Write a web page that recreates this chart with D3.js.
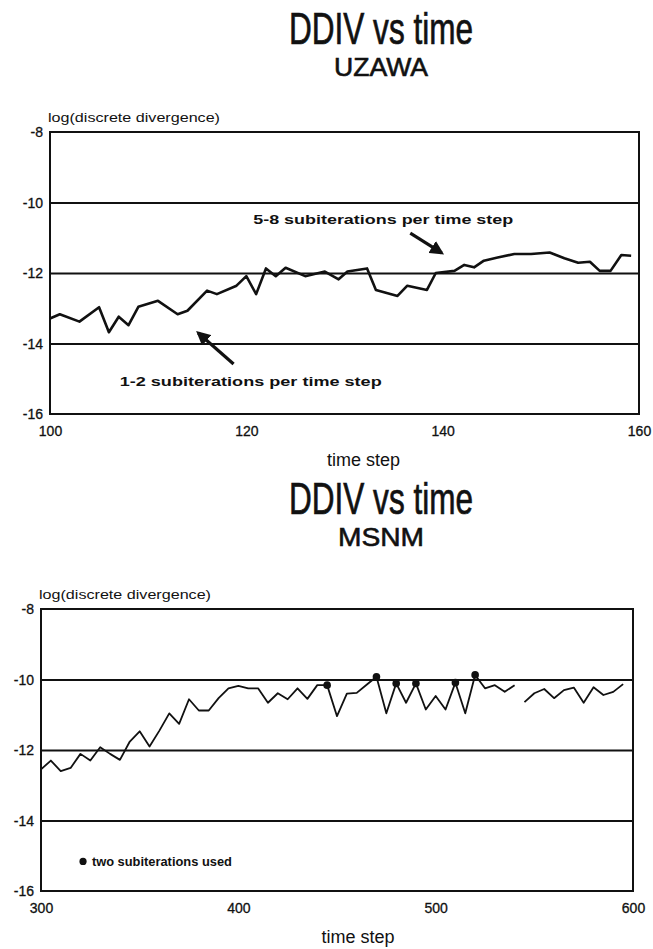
<!DOCTYPE html>
<html>
<head>
<meta charset="utf-8">
<script src="https://cdn.jsdelivr.net/npm/d3@7"></script>
<style>
  html, body { margin: 0; padding: 0; background: #fff; }
  svg { display: block; }
  text { font-family: "Liberation Sans", Arial, Helvetica, sans-serif; fill: #111; }
</style>
</head>
<body>
<svg id="chart" width="653" height="949"></svg>
<script>
// ---- UZAWA run: log10 of discrete divergence per time step ----
const uzawaTimes = [100, 101, 103, 105, 106, 107, 108, 109, 111, 113, 114, 116, 117, 119, 120,
  121, 122, 123, 124, 126, 128, 129.4, 130.3, 132.3, 133.2, 135.4, 136.4, 138.4, 139.3, 141.2,
  142.2, 143.2, 144.2, 145.6, 147.3, 149, 150.9, 152.4, 153.8, 155, 156, 157.1, 158.2, 159.2];
const uzawaValues = [-13.29, -13.17, -13.38, -12.97, -13.68, -13.24, -13.48, -12.96, -12.79, -13.17,
  -13.07, -12.50, -12.60, -12.36, -12.09, -12.60, -11.87, -12.09, -11.85, -12.09, -11.96, -12.18,
  -11.96, -11.87, -12.48, -12.65, -12.36, -12.48, -12.00, -11.94, -11.77, -11.84, -11.65, -11.56,
  -11.46, -11.46, -11.42, -11.58, -11.71, -11.68, -11.94, -11.94, -11.49, -11.51];

// ---- MSNM run: every fifth time step ----
const msnmTimes = [300, 305, 310, 315, 320, 325, 330, 335, 340, 345, 350, 355, 360, 365, 370,
  375, 380, 385, 390, 395, 400, 405, 410, 415, 420, 425, 430, 435, 440, 445, 450, 455, 460, 465,
  470, 475, 480, 485, 490, 495, 500, 505, 510, 515, 520, 525, 530, 535, 540, 545, 550, 555, 560,
  565, 570, 575, 580, 585, 590, 595];
const msnmValues = [-12.55, -12.30, -12.60, -12.51, -12.11, -12.30, -11.92, -12.11, -12.28, -11.76,
  -11.47, -11.90, -11.45, -10.96, -11.26, -10.56, -10.88, -10.88, -10.53, -10.25, -10.18, -10.25,
  -10.25, -10.66, -10.39, -10.56, -10.25, -10.55, -10.16, -10.16, -11.04, -10.40, -10.38, -10.15,
  -9.92, -10.96, -10.11, -10.66, -10.11, -10.85, -10.47, -10.85, -10.09, -10.96, -9.87, -10.25,
  -10.16, -10.35, -10.16, -10.64, -10.39, -10.27, -10.53, -10.30, -10.23, -10.66, -10.22, -10.44,
  -10.35, -10.13];
// no output recorded between these steps and the next one
const msnmBreaksAfter = [540];
// steps where two subiterations were used
const msnmTwoSubit = [445, 470, 480, 490, 510, 520];

// ---- axis ticks ----
const yTicks = [-8, -10, -12, -14, -16];
const yGrid = [-10, -12, -14];
const uzawaXTicks = [100, 120, 140, 160];
const msnmXTicks = [300, 400, 500, 600];

const svg = d3.select("#chart");
const defs = svg.append("defs");
defs.append("marker").attr("id", "head").attr("viewBox", "0 0 10 10")
  .attr("refX", 8).attr("refY", 5).attr("markerWidth", 4.4).attr("markerHeight", 4.4)
  .attr("markerUnits", "strokeWidth").attr("orient", "auto")
  .append("path").attr("d", "M0,0 L10,5 L0,10 Z").attr("fill", "#111");

function panel(cfg) {
  const g = svg.append("g");
  const x = d3.scaleLinear().domain(cfg.xDomain).range([cfg.left, cfg.right]);
  const y = d3.scaleLinear().domain([-16, -8]).range([cfg.bottom, cfg.top]);

  // titles
  g.append("text").attr("x", cfg.titleX).attr("y", cfg.titleY)
    .attr("text-anchor", "middle").attr("font-size", 44)
    .attr("textLength", 184).attr("lengthAdjust", "spacingAndGlyphs")
    .attr("stroke", "#111").attr("stroke-width", 0.7)
    .text("DDIV  vs  time");
  g.append("text").attr("x", cfg.titleX).attr("y", cfg.titleY + 32)
    .attr("text-anchor", "middle").attr("font-size", 26)
    .attr("textLength", cfg.subW).attr("lengthAdjust", "spacingAndGlyphs")
    .attr("stroke", "#111").attr("stroke-width", 0.6)
    .text(cfg.subtitle);

  // y-axis caption
  g.append("text").attr("x", cfg.left - 2).attr("y", cfg.top - 10)
    .attr("font-size", 12.5).attr("textLength", 172).attr("lengthAdjust", "spacingAndGlyphs")
    .text("log(discrete divergence)");

  // horizontal rules
  const grid = g.append("g").attr("transform", `translate(${cfg.left},0)`)
    .call(d3.axisLeft(y).tickValues(yGrid).tickSize(-(cfg.right - cfg.left)).tickFormat(""));
  grid.select(".domain").remove();
  grid.selectAll("line").attr("stroke", "#111").attr("stroke-width", 2);

  // y tick labels
  const ya = g.append("g").attr("transform", `translate(${cfg.left},0)`)
    .call(d3.axisLeft(y).tickValues(yTicks).tickSize(0).tickPadding(7).tickFormat(d => String(d)));
  ya.select(".domain").remove();
  ya.selectAll("text").attr("font-size", 14).attr("font-family", "Liberation Sans, Arial, sans-serif")
    .attr("fill", "#111").attr("stroke", "#111").attr("stroke-width", 0.3).attr("dy", "0.35em");

  // x tick labels
  const xa = g.append("g").attr("transform", `translate(0,${cfg.bottom})`)
    .call(d3.axisBottom(x).tickValues(cfg.xTicks).tickSize(0).tickPadding(12).tickFormat(d => String(d)));
  xa.select(".domain").remove();
  xa.selectAll("text").attr("font-size", 14).attr("font-family", "Liberation Sans, Arial, sans-serif")
    .attr("fill", "#111").attr("stroke", "#111").attr("stroke-width", 0.3);

  // x caption
  g.append("text").attr("x", (cfg.left + cfg.right) / 2 + cfg.capShift).attr("y", cfg.bottom + 52)
    .attr("text-anchor", "middle").attr("font-size", 18)
    .text("time step");

  // frame
  g.append("rect").attr("x", cfg.left).attr("y", cfg.top)
    .attr("width", cfg.right - cfg.left).attr("height", cfg.bottom - cfg.top)
    .attr("fill", "none").attr("stroke", "#111").attr("stroke-width", 2);

  return { g, x, y };
}

// ---------- upper panel: UZAWA ----------
const P1 = panel({
  xDomain: [100, 160], left: 50, right: 639, top: 132, bottom: 414,
  titleX: 381, titleY: 44, subtitle: "UZAWA", subW: 94, xTicks: uzawaXTicks, capShift: 19
});
{
  const pts = uzawaTimes.map((t, i) => [t, uzawaValues[i]]);
  const line = d3.line().x(d => P1.x(d[0])).y(d => P1.y(d[1]));
  P1.g.append("path").attr("d", line(pts)).attr("fill", "none")
    .attr("stroke", "#111").attr("stroke-width", 2.6).attr("stroke-linejoin", "round");

  // arrows pointing at the two regimes
  const arrows = [
    [[136.7, -10.87], [139.9, -11.43]],
    [[118.7, -14.58], [115.1, -13.70]]
  ];
  arrows.forEach(a => {
    P1.g.append("line")
      .attr("x1", P1.x(a[0][0])).attr("y1", P1.y(a[0][1]))
      .attr("x2", P1.x(a[1][0])).attr("y2", P1.y(a[1][1]))
      .attr("stroke", "#111").attr("stroke-width", 3.2).attr("marker-end", "url(#head)");
  });

  P1.g.append("text").attr("x", P1.x(120.7)).attr("y", P1.y(-10.62))
    .attr("font-size", 12).attr("font-weight", "bold")
    .attr("textLength", 260).attr("lengthAdjust", "spacingAndGlyphs")
    .text("5-8 subiterations per time step");
  P1.g.append("text").attr("x", P1.x(107.1)).attr("y", P1.y(-15.2))
    .attr("font-size", 12).attr("font-weight", "bold")
    .attr("textLength", 262).attr("lengthAdjust", "spacingAndGlyphs")
    .text("1-2 subiterations per time step");
}

// ---------- lower panel: MSNM ----------
const P2 = panel({
  xDomain: [300, 600], left: 41, right: 633, top: 609, bottom: 891,
  titleX: 381, titleY: 514, subtitle: "MSNM", subW: 86, xTicks: msnmXTicks, capShift: 21
});
{
  // split the series where output is missing
  const segments = [];
  let cur = [];
  msnmTimes.forEach((t, i) => {
    cur.push([t, msnmValues[i]]);
    if (msnmBreaksAfter.includes(t)) { segments.push(cur); cur = []; }
  });
  if (cur.length) segments.push(cur);

  const line = d3.line().x(d => P2.x(d[0])).y(d => P2.y(d[1]));
  segments.forEach(seg => {
    P2.g.append("path").attr("d", line(seg)).attr("fill", "none")
      .attr("stroke", "#111").attr("stroke-width", 1.8).attr("stroke-linejoin", "round");
  });

  P2.g.selectAll("circle.sub").data(msnmTwoSubit).join("circle").attr("class", "sub")
    .attr("cx", t => P2.x(t))
    .attr("cy", t => P2.y(msnmValues[msnmTimes.indexOf(t)]))
    .attr("r", 3.8).attr("fill", "#111");

  // legend
  P2.g.append("circle").attr("cx", P2.x(321.3)).attr("cy", P2.y(-15.16)).attr("r", 3.6).attr("fill", "#111");
  P2.g.append("text").attr("x", P2.x(325.8)).attr("y", P2.y(-15.28))
    .attr("font-size", 12).attr("font-weight", "bold")
    .attr("textLength", 140).attr("lengthAdjust", "spacingAndGlyphs")
    .text("two subiterations used");
}
</script>
</body>
</html>
